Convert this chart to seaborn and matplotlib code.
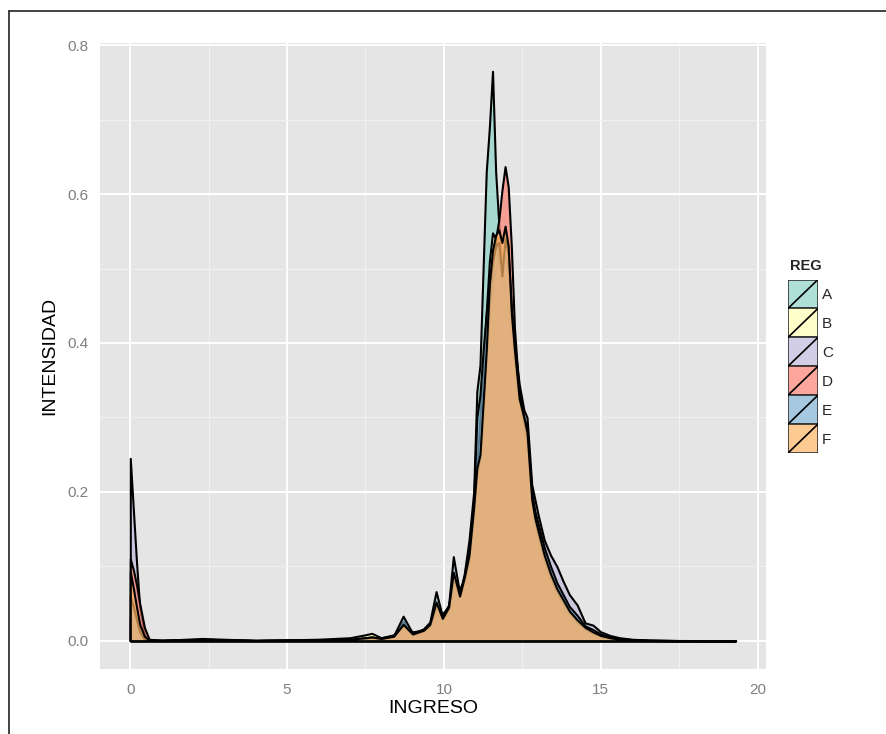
import matplotlib
matplotlib.use("Agg")
import matplotlib.pyplot as plt
import seaborn as sns
from matplotlib.lines import Line2D
from matplotlib.patches import Rectangle

# densidades, una lista por region
REGIONES = ["A", "B", "C", "D", "E", "F"]

INGRESO = [0.0, 0.1, 0.2, 0.3, 0.45, 0.6,
           1.0, 2.3, 4.0, 6.0, 7.0,
           7.5, 7.7, 8.0, 8.4, 8.7,
           9.0, 9.35, 9.55, 9.75, 9.95,
           10.15, 10.3, 10.5, 10.65, 10.8,
           10.95, 11.05, 11.15, 11.25, 11.35,
           11.45, 11.55, 11.65, 11.75, 11.85,
           11.95, 12.05, 12.15, 12.25, 12.4,
           12.55, 12.65, 12.8, 12.9, 13.0,
           13.2, 13.4, 13.6, 13.8, 14.0,
           14.25, 14.5, 14.75, 15.0, 15.3,
           15.6, 16.0, 16.5, 17.5, 19.3]

DENS_A = [0.010, 0.008, 0.005, 0.002, 0.001, 0.0005,
          0.0003, 0.001, 0.0003, 0.001, 0.002,
          0.004, 0.005, 0.003, 0.007, 0.026,
          0.008, 0.013, 0.022, 0.050, 0.030,
          0.045, 0.090, 0.060, 0.090, 0.135,
          0.200, 0.335, 0.370, 0.500, 0.630,
          0.690, 0.765, 0.630, 0.560, 0.500,
          0.470, 0.440, 0.400, 0.360, 0.310,
          0.280, 0.260, 0.190, 0.160, 0.140,
          0.105, 0.080, 0.062, 0.048, 0.034,
          0.022, 0.014, 0.009, 0.005, 0.003,
          0.0015, 0.0008, 0.0003, 0.0001, 0.0]

DENS_B = [0.030, 0.025, 0.015, 0.006, 0.001, 0.0005,
          0.0005, 0.001, 0.0003, 0.002, 0.004,
          0.008, 0.010, 0.004, 0.007, 0.024,
          0.008, 0.013, 0.021, 0.050, 0.030,
          0.045, 0.088, 0.058, 0.085, 0.120,
          0.190, 0.235, 0.300, 0.370, 0.440,
          0.510, 0.548, 0.540, 0.500, 0.480,
          0.470, 0.445, 0.410, 0.370, 0.320,
          0.285, 0.265, 0.190, 0.160, 0.140,
          0.108, 0.082, 0.064, 0.050, 0.036,
          0.024, 0.015, 0.010, 0.006, 0.003,
          0.0015, 0.0008, 0.0003, 0.0001, 0.0]

DENS_C = [0.245, 0.175, 0.105, 0.045, 0.008, 0.001,
          0.0005, 0.003, 0.0005, 0.001, 0.002,
          0.003, 0.004, 0.003, 0.006, 0.020,
          0.008, 0.012, 0.020, 0.045, 0.028,
          0.040, 0.080, 0.058, 0.080, 0.110,
          0.170, 0.220, 0.245, 0.300, 0.370,
          0.440, 0.480, 0.500, 0.510, 0.505,
          0.515, 0.500, 0.440, 0.400, 0.345,
          0.310, 0.300, 0.210, 0.190, 0.170,
          0.135, 0.115, 0.100, 0.080, 0.062,
          0.048, 0.024, 0.021, 0.012, 0.007,
          0.004, 0.002, 0.001, 0.0003, 0.0]

DENS_D = [0.110, 0.095, 0.075, 0.050, 0.018, 0.002,
          0.0005, 0.001, 0.0003, 0.001, 0.002,
          0.003, 0.004, 0.004, 0.008, 0.020,
          0.012, 0.014, 0.020, 0.046, 0.036,
          0.046, 0.082, 0.070, 0.082, 0.110,
          0.175, 0.225, 0.245, 0.310, 0.380,
          0.450, 0.500, 0.540, 0.565, 0.605,
          0.637, 0.610, 0.530, 0.420, 0.330,
          0.290, 0.272, 0.190, 0.160, 0.142,
          0.110, 0.085, 0.066, 0.050, 0.037,
          0.025, 0.016, 0.010, 0.006, 0.003,
          0.002, 0.001, 0.0004, 0.0001, 0.0]

DENS_E = [0.060, 0.045, 0.028, 0.012, 0.002, 0.0005,
          0.0005, 0.002, 0.0005, 0.001, 0.002,
          0.004, 0.005, 0.003, 0.007, 0.033,
          0.010, 0.016, 0.025, 0.066, 0.033,
          0.048, 0.113, 0.064, 0.088, 0.125,
          0.190, 0.300, 0.330, 0.390, 0.440,
          0.480, 0.510, 0.530, 0.535, 0.490,
          0.540, 0.520, 0.450, 0.395, 0.335,
          0.300, 0.285, 0.200, 0.174, 0.158,
          0.125, 0.100, 0.078, 0.062, 0.046,
          0.034, 0.020, 0.015, 0.009, 0.005,
          0.003, 0.0015, 0.0006, 0.0002, 0.0]

DENS_F = [0.093, 0.070, 0.045, 0.022, 0.006, 0.001,
          0.0005, 0.001, 0.0003, 0.001, 0.002,
          0.004, 0.005, 0.003, 0.006, 0.022,
          0.009, 0.014, 0.022, 0.052, 0.030,
          0.045, 0.092, 0.060, 0.085, 0.115,
          0.180, 0.232, 0.250, 0.320, 0.390,
          0.480, 0.525, 0.545, 0.552, 0.535,
          0.557, 0.530, 0.440, 0.390, 0.325,
          0.300, 0.280, 0.190, 0.165, 0.148,
          0.115, 0.090, 0.070, 0.055, 0.040,
          0.028, 0.018, 0.012, 0.007, 0.004,
          0.002, 0.001, 0.0005, 0.0002, 0.0]

DENSIDADES = [DENS_A, DENS_B, DENS_C, DENS_D, DENS_E, DENS_F]

Y_TICKS = [0.0, 0.2, 0.4, 0.6, 0.8]
X_TICKS = [0, 5, 10, 15, 20]

# estilo parecido a theme_grey de ggplot2
sns.set_theme(style="darkgrid", rc={
    "axes.facecolor": "#E5E5E5",
    "grid.color": "white",
    "axes.edgecolor": "none",
    "xtick.color": "#7F7F7F",
    "ytick.color": "#7F7F7F",
})
plt.rcParams["font.family"] = ["Liberation Sans", "DejaVu Sans"]

fig = plt.figure(figsize=(8.86, 7.34), dpi=100)
ax = fig.add_axes([100 / 886, 65 / 734, 666 / 886, 626 / 734])

palette = sns.color_palette("Set3", 6)
ALPHA = 0.7

for reg, dens, col in zip(REGIONES, DENSIDADES, palette):
    ax.fill_between(INGRESO, dens, 0, facecolor=(*col, ALPHA),
                    edgecolor="black", linewidth=1.5, zorder=3)

ax.set_xlim(-0.965, 20.27)
ax.set_ylim(-0.038, 0.803)
ax.set_xticks(X_TICKS)
ax.set_yticks(Y_TICKS)
ax.set_yticklabels([f"{v:.1f}" for v in Y_TICKS])
ax.set_xticks([2.5, 7.5, 12.5, 17.5], minor=True)
ax.set_yticks([0.1, 0.3, 0.5, 0.7], minor=True)
ax.grid(which="major", color="white", linewidth=1.4)
ax.grid(which="minor", color="#F2F2F2", linewidth=0.7)
ax.tick_params(which="major", length=4, width=1, color="#7F7F7F",
               labelsize=11, labelcolor="#7F7F7F")
ax.tick_params(axis="x", which="major", pad=6)
ax.tick_params(axis="y", which="major", pad=4)
ax.tick_params(which="minor", length=0)
for s in ax.spines.values():
    s.set_visible(False)

ax.set_xlabel("INGRESO", fontsize=14, color="black", labelpad=2)
ax.set_ylabel("INTENSIDAD", fontsize=14, color="black", labelpad=7)

# leyenda al estilo ggplot
lax = fig.add_axes([788 / 886, 281 / 734, 30 / 886, 173.5 / 734])
lax.set_xlim(0, 1)
lax.set_ylim(0, 6)
lax.axis("off")
for i, (reg, col) in enumerate(zip(REGIONES, palette)):
    y0 = 5 - i
    lax.add_patch(Rectangle((0, y0), 1, 1, facecolor=(*col, ALPHA),
                            edgecolor="#333333", linewidth=1.2))
    lax.plot([0, 1], [y0, y0 + 1], color="black", linewidth=1.2)
    fig.text(822 / 886, (734 - (295 + 29 * i)) / 734, reg,
             fontsize=11, va="center", ha="left")
fig.text(790 / 886, (734 - 266) / 734, "REG", fontsize=10.5,
         fontweight="bold", va="center", ha="left")

# marco de la captura
fig.add_artist(Line2D([9 / 886, 9 / 886], [0, (734 - 11) / 734],
                      color="#222222", linewidth=1.2))
fig.add_artist(Line2D([9 / 886, 1], [(734 - 11) / 734, (734 - 11) / 734],
                      color="#222222", linewidth=1.2))

fig.savefig("out.png", dpi=100)
